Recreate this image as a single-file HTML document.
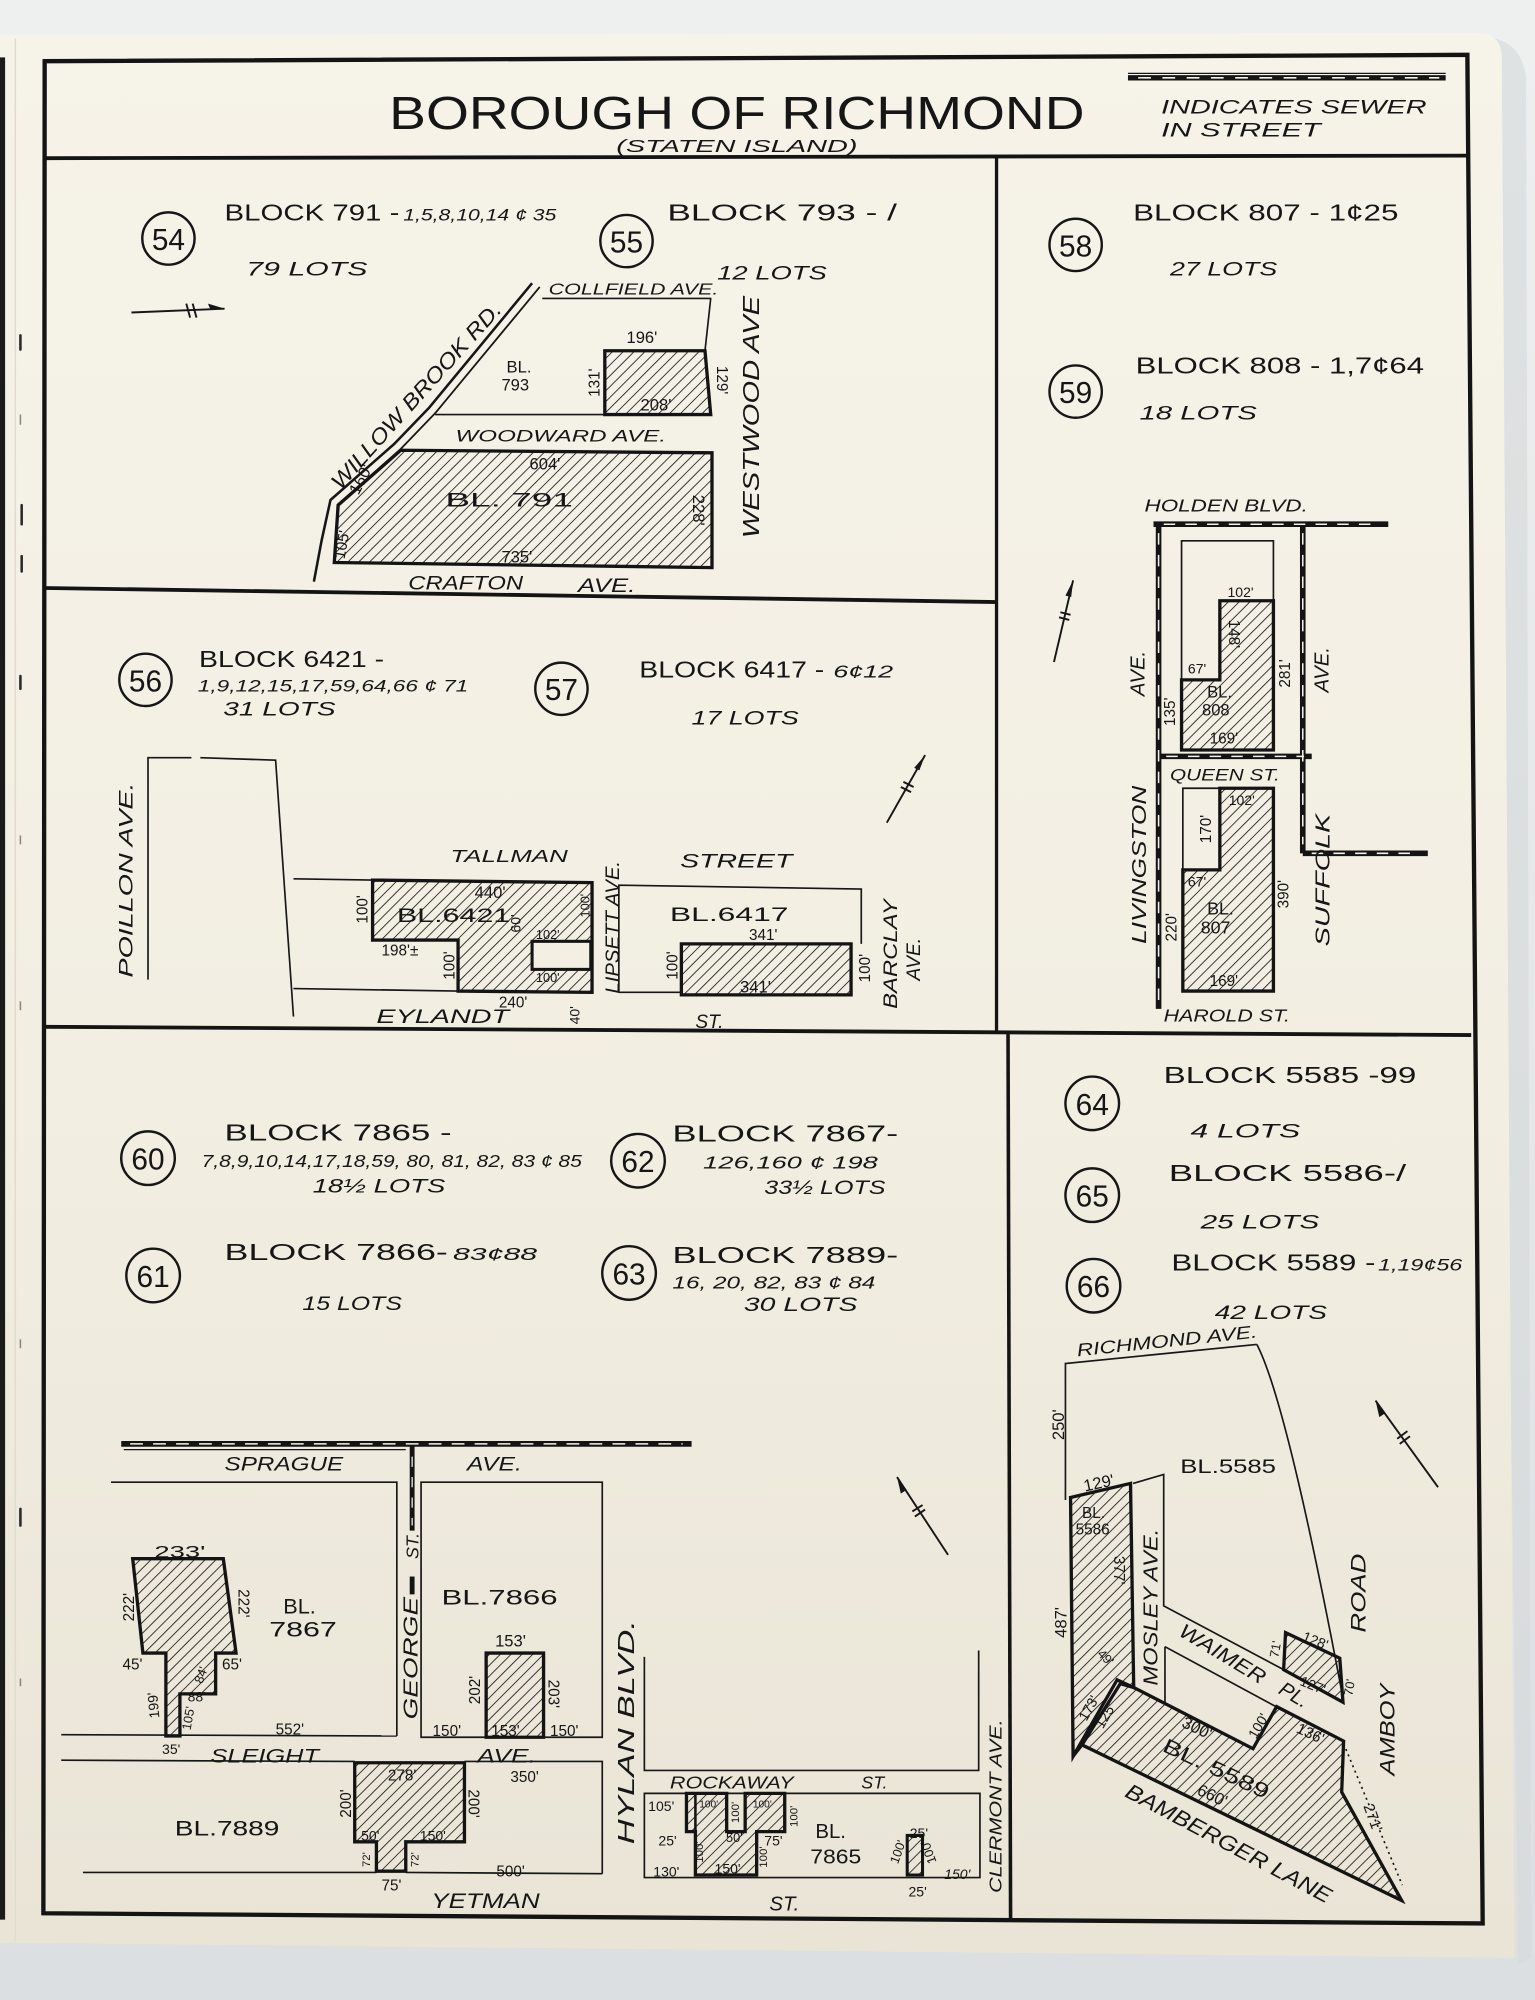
<!DOCTYPE html>
<html>
<head>
<meta charset="utf-8">
<style>
html,body{margin:0;padding:0;background:#e9ebec;}
svg{display:block;}
text{font-family:"Liberation Sans","DejaVu Sans",sans-serif;fill:#161616;}
.i{font-style:italic;}
</style>
</head>
<body>
<svg width="1535" height="2000" viewBox="0 0 1203 1568" preserveAspectRatio="none" xmlns="http://www.w3.org/2000/svg">
<defs>
<linearGradient id="pg" x1="0" y1="0" x2="0" y2="1">
<stop offset="0" stop-color="#f6f3e9"/>
<stop offset="0.55" stop-color="#f2eee2"/>
<stop offset="1" stop-color="#e9e4d6"/>
</linearGradient>
<linearGradient id="bg" x1="0" y1="0" x2="0" y2="1">
<stop offset="0" stop-color="#eef0f0"/>
<stop offset="1" stop-color="#dcdfe1"/>
</linearGradient>
<pattern id="h" width="6" height="6" patternUnits="userSpaceOnUse" patternTransform="rotate(45)">
<line x1="0" y1="0" x2="0" y2="6" stroke="#151515" stroke-width="1.3"/>
</pattern>
</defs>

<!-- background -->
<rect x="0" y="0" width="1203" height="1568" fill="url(#bg)"/>
<path d="M1170,30 Q1192,34 1196,60 L1200,1535 L1190,1540 Z" fill="#d6d8d9" opacity="0.6"/>
<!-- page -->
<path d="M0,27 L1160,26 Q1176,27 1177,44 L1187,1535 L0,1523 Z" fill="url(#pg)"/>
<!-- binding -->
<rect x="0" y="45" width="4" height="1460" fill="#1b1b1b"/>
<line x1="12" y1="30" x2="12" y2="1523" stroke="#e2dccd" stroke-width="1.2"/>
<g stroke="#2a2a2a" stroke-width="2" stroke-linecap="round">
<line x1="16" y1="263" x2="16" y2="274"/>
<line x1="17" y1="396" x2="17" y2="411"/>
<line x1="17" y1="436" x2="17" y2="448"/>
<line x1="16" y1="530" x2="16" y2="540"/>
<line x1="16" y1="1183" x2="16" y2="1196"/>
</g>
<g stroke="#8a8580" stroke-width="1.2">
<line x1="16" y1="325" x2="16" y2="333"/>
<line x1="16" y1="655" x2="16" y2="662"/>
<line x1="16" y1="785" x2="16" y2="792"/>
<line x1="16" y1="1050" x2="16" y2="1057"/>
<line x1="16" y1="1316" x2="16" y2="1322"/>
</g>

<!-- frame -->
<g fill="none" stroke="#141414" stroke-linejoin="miter">
<polygon points="35,48 1150,43 1162,1508 34,1500" stroke-width="3.4"/>
<line x1="35" y1="124" x2="1150" y2="122" stroke-width="3"/>
<line x1="781" y1="123" x2="781" y2="810" stroke-width="2.6"/>
<line x1="35" y1="461" x2="781" y2="472" stroke-width="3"/>
<line x1="35" y1="805" x2="1153" y2="811.5" stroke-width="3"/>
<line x1="790" y1="809" x2="792" y2="1505" stroke-width="2.8"/>
</g>

<!-- header -->
<text x="305" y="101" font-size="36" textLength="545" lengthAdjust="spacingAndGlyphs">BOROUGH OF RICHMOND</text>
<text x="483" y="119" font-size="14" class="i" textLength="189" lengthAdjust="spacingAndGlyphs">(STATEN ISLAND)</text>
<line x1="884" y1="57.5" x2="1133" y2="57.5" stroke="#161616" stroke-width="1"/>
<line x1="884" y1="61" x2="1133" y2="61" stroke="#161616" stroke-width="4.2"/>
<line x1="892" y1="61" x2="1128" y2="61" stroke="#f5f2e7" stroke-width="1.2" stroke-dasharray="10 9"/>
<text x="910" y="89" font-size="15" class="i" textLength="208" lengthAdjust="spacingAndGlyphs">INDICATES SEWER</text>
<text x="910" y="107" font-size="15" class="i" textLength="125" lengthAdjust="spacingAndGlyphs">IN STREET</text>

<!-- circles -->
<g fill="none" stroke="#161616" stroke-width="1.9">
<circle cx="132" cy="187" r="20.5"/>
<circle cx="491" cy="189" r="20.5"/>
<circle cx="843" cy="192" r="20.5"/>
<circle cx="843" cy="307" r="20.5"/>
<circle cx="114" cy="533" r="20.5"/>
<circle cx="440" cy="540" r="20.5"/>
<circle cx="116" cy="908" r="21"/>
<circle cx="120" cy="1000" r="21"/>
<circle cx="500" cy="910" r="21"/>
<circle cx="493" cy="998" r="21"/>
<circle cx="856" cy="865" r="21"/>
<circle cx="856" cy="937" r="21"/>
<circle cx="857" cy="1008" r="21"/>
</g>
<g font-size="24" text-anchor="middle">
<text x="132" y="196" textLength="26" lengthAdjust="spacingAndGlyphs">54</text>
<text x="491" y="198" textLength="26" lengthAdjust="spacingAndGlyphs">55</text>
<text x="843" y="201" textLength="26" lengthAdjust="spacingAndGlyphs">58</text>
<text x="843" y="316" textLength="26" lengthAdjust="spacingAndGlyphs">59</text>
<text x="114" y="542" textLength="26" lengthAdjust="spacingAndGlyphs">56</text>
<text x="440" y="549" textLength="26" lengthAdjust="spacingAndGlyphs">57</text>
<text x="116" y="917" textLength="26" lengthAdjust="spacingAndGlyphs">60</text>
<text x="120" y="1009" textLength="26" lengthAdjust="spacingAndGlyphs">61</text>
<text x="500" y="919" textLength="26" lengthAdjust="spacingAndGlyphs">62</text>
<text x="493" y="1007" textLength="26" lengthAdjust="spacingAndGlyphs">63</text>
<text x="856" y="874" textLength="26" lengthAdjust="spacingAndGlyphs">64</text>
<text x="856" y="946" textLength="26" lengthAdjust="spacingAndGlyphs">65</text>
<text x="857" y="1017" textLength="26" lengthAdjust="spacingAndGlyphs">66</text>
</g>

<!-- ===== 54/55 ===== -->
<text x="176" y="173" font-size="18" textLength="137" lengthAdjust="spacingAndGlyphs">BLOCK 791 -</text>
<text x="316" y="173" font-size="13" class="i" textLength="120" lengthAdjust="spacingAndGlyphs">1,5,8,10,14 ¢ 35</text>
<text x="193" y="216" font-size="15" class="i" textLength="95" lengthAdjust="spacingAndGlyphs">79 LOTS</text>
<text x="523" y="173" font-size="18" textLength="180" lengthAdjust="spacingAndGlyphs">BLOCK 793 - /</text>
<text x="562" y="219" font-size="15" class="i" textLength="86" lengthAdjust="spacingAndGlyphs">12 LOTS</text>
<!-- arrow 54 -->
<g stroke="#161616" stroke-width="1.5" fill="none">
<line x1="103" y1="245" x2="176" y2="242"/>
<line x1="146" y1="238" x2="149" y2="249"/>
<line x1="151" y1="238" x2="154" y2="249"/>
</g>
<polygon points="176,242 163,238 165,243" fill="#161616"/>
<!-- roads -->
<g stroke="#161616" fill="none" stroke-linejoin="round">
<polyline points="417,222 336,320 309,348 259,392 252,424 246,456" stroke-width="2"/>
<polyline points="423,225 341,324 314,352 265,396" stroke-width="1.4"/>
<polyline points="425,234 557,234 552.5,275" stroke-width="1.3"/>
<line x1="341" y1="325" x2="474" y2="325" stroke-width="1.3"/>
</g>
<polygon points="474,275 552.5,275 557,325 474,325" fill="url(#h)" stroke="#141414" stroke-width="2.6"/>
<polygon points="314,353 558,355 558,445 262,441 265,396" fill="url(#h)" stroke="#141414" stroke-width="2.6"/>
<text x="430" y="231" font-size="12" class="i" textLength="133" lengthAdjust="spacingAndGlyphs">COLLFIELD AVE.</text>
<text transform="translate(326,310) rotate(-48)" text-anchor="middle" y="6" font-size="17" class="i" textLength="190" lengthAdjust="spacingAndGlyphs">WILLOW BROOK RD.</text>
<text x="397" y="292" font-size="13">BL.</text>
<text x="393" y="306" font-size="13">793</text>
<text transform="translate(466,300) rotate(-90)" text-anchor="middle" y="4" font-size="12">131'</text>
<text x="491" y="269" font-size="13">196'</text>
<text x="502" y="322" font-size="13">208'</text>
<text transform="translate(566,298) rotate(90)" text-anchor="middle" y="4" font-size="12">129'</text>
<text transform="translate(589,327) rotate(-90)" text-anchor="middle" y="6" font-size="18" class="i" textLength="190" lengthAdjust="spacingAndGlyphs">WESTWOOD AVE</text>
<text x="357" y="346" font-size="13" class="i" textLength="165" lengthAdjust="spacingAndGlyphs">WOODWARD AVE.</text>
<text x="415" y="368" font-size="13">604'</text>
<text x="349" y="397" font-size="15" textLength="100" lengthAdjust="spacingAndGlyphs">BL.  791</text>
<text x="393" y="441" font-size="13">735'</text>
<text transform="translate(547,400) rotate(90)" text-anchor="middle" y="4" font-size="13">228'</text>
<text transform="translate(283,376) rotate(-62)" text-anchor="middle" y="4" font-size="13">160'</text>
<text transform="translate(268,427) rotate(-80)" text-anchor="middle" y="4" font-size="12">105'</text>
<text x="320" y="462" font-size="15" class="i" textLength="90" lengthAdjust="spacingAndGlyphs">CRAFTON</text>
<text x="453" y="464" font-size="15" class="i" textLength="45" lengthAdjust="spacingAndGlyphs">AVE.</text>

<!-- ===== 58/59 ===== -->
<text x="888" y="173" font-size="18" textLength="208" lengthAdjust="spacingAndGlyphs">BLOCK 807 - 1¢25</text>
<text x="917" y="216" font-size="15" class="i" textLength="84" lengthAdjust="spacingAndGlyphs">27 LOTS</text>
<text x="890" y="293" font-size="18" textLength="226" lengthAdjust="spacingAndGlyphs">BLOCK 808 - 1,7¢64</text>
<text x="893" y="329" font-size="15" class="i" textLength="92" lengthAdjust="spacingAndGlyphs">18 LOTS</text>
<text x="897" y="401" font-size="14" class="i" textLength="128" lengthAdjust="spacingAndGlyphs">HOLDEN BLVD.</text>
<!-- sewers -->
<g stroke="#141414" stroke-width="4.4" fill="none">
<line x1="904" y1="411" x2="1088" y2="411"/>
<line x1="908" y1="411" x2="908" y2="791"/>
<line x1="1021" y1="411" x2="1021" y2="669"/>
<line x1="1021" y1="669" x2="1119" y2="669"/>
<line x1="908" y1="593" x2="1028" y2="593"/>
</g>
<g stroke="#f4f1e6" stroke-width="1.2" fill="none" stroke-dasharray="9 8">
<line x1="912" y1="411" x2="1080" y2="411"/>
<line x1="908" y1="418" x2="908" y2="785"/>
<line x1="1021" y1="418" x2="1021" y2="662"/>
<line x1="1028" y1="669" x2="1105" y2="669"/>
<line x1="914" y1="593" x2="1022" y2="593"/>
</g>
<polyline points="926,533 926,424 998,424 998,471" fill="none" stroke="#161616" stroke-width="1.3"/>
<polygon points="956,471 998,471 998,588 926,588 926,533 956,533" fill="url(#h)" stroke="#141414" stroke-width="2.6"/>
<polyline points="927,682 927,618 956,618" fill="none" stroke="#161616" stroke-width="1.3"/>
<polygon points="956,618 998,618 998,777 927,777 927,682 956,682" fill="url(#h)" stroke="#141414" stroke-width="2.6"/>
<text x="962" y="468" font-size="11">102'</text>
<text transform="translate(967,497) rotate(90)" text-anchor="middle" y="4" font-size="12">148'</text>
<text x="931" y="528" font-size="11">67'</text>
<text x="946" y="547" font-size="13">BL.</text>
<text x="942" y="561" font-size="13">808</text>
<text x="948" y="583" font-size="12">169'</text>
<text transform="translate(917,558) rotate(-90)" text-anchor="middle" y="4" font-size="12">135'</text>
<text transform="translate(1007,528) rotate(-90)" text-anchor="middle" y="4" font-size="12">281'</text>
<text transform="translate(892,528) rotate(-90)" text-anchor="middle" y="5" font-size="16" class="i">AVE.</text>
<text transform="translate(1036,525) rotate(-90)" text-anchor="middle" y="5" font-size="16" class="i">AVE.</text>
<text x="917" y="612" font-size="13" class="i" textLength="86" lengthAdjust="spacingAndGlyphs">QUEEN ST.</text>
<text x="963" y="631" font-size="11">102'</text>
<text transform="translate(945,650) rotate(-90)" text-anchor="middle" y="4" font-size="12">170'</text>
<text x="931" y="695" font-size="11">67'</text>
<text x="946" y="717" font-size="14">BL.</text>
<text x="941" y="732" font-size="14">807</text>
<text transform="translate(918,727) rotate(-90)" text-anchor="middle" y="4" font-size="12">220'</text>
<text transform="translate(1006,701) rotate(-90)" text-anchor="middle" y="4" font-size="12">390'</text>
<text x="948" y="773" font-size="12">169'</text>
<text transform="translate(893,678) rotate(-90)" text-anchor="middle" y="5" font-size="16" class="i" textLength="124" lengthAdjust="spacingAndGlyphs">LIVINGSTON</text>
<text transform="translate(1037,690) rotate(-90)" text-anchor="middle" y="5" font-size="16" class="i" textLength="104" lengthAdjust="spacingAndGlyphs">SUFFOLK</text>
<text x="912" y="801" font-size="14" class="i" textLength="99" lengthAdjust="spacingAndGlyphs">HAROLD ST.</text>
<!-- arrow 58 -->
<g stroke="#161616" stroke-width="1.5" fill="none">
<line x1="826" y1="519" x2="841" y2="455"/>
<line x1="830" y1="484" x2="838" y2="486"/>
<line x1="831" y1="480" x2="839" y2="482"/>
</g>
<polygon points="841,455 835,467 839.5,468" fill="#161616"/>

<!-- ===== 56/57 ===== -->
<text x="156" y="523" font-size="18" textLength="145" lengthAdjust="spacingAndGlyphs">BLOCK 6421 -</text>
<text x="155" y="542" font-size="13" class="i" textLength="212" lengthAdjust="spacingAndGlyphs">1,9,12,15,17,59,64,66 ¢ 71</text>
<text x="175" y="561" font-size="15" class="i" textLength="88" lengthAdjust="spacingAndGlyphs">31 LOTS</text>
<text x="501" y="531" font-size="18" textLength="145" lengthAdjust="spacingAndGlyphs">BLOCK 6417 -</text>
<text x="653" y="531" font-size="14" class="i" textLength="47" lengthAdjust="spacingAndGlyphs">6¢12</text>
<text x="542" y="568" font-size="15" class="i" textLength="84" lengthAdjust="spacingAndGlyphs">17 LOTS</text>
<g stroke="#161616" stroke-width="1.3" fill="none">
<polyline points="116,768 116,594 150,594"/>
<polyline points="157,594 216,596 230,797"/>
<line x1="230" y1="689" x2="292" y2="690"/>
<line x1="230" y1="775" x2="359" y2="777"/>
<polyline points="485,778 485,694 675,697 675,740"/>
<line x1="485" y1="778" x2="534" y2="778"/>
</g>
<polygon points="292,690 464,692 464,778 359,777 359,737 292,737" fill="url(#h)" stroke="#141414" stroke-width="2.6"/>
<rect x="417" y="738" width="46" height="22" fill="#f3efe3" stroke="#141414" stroke-width="2.4"/>
<polygon points="534,740 667,740 667,780 534,780" fill="url(#h)" stroke="#141414" stroke-width="2.6"/>
<text transform="translate(99,690) rotate(-90)" text-anchor="middle" y="5" font-size="15" class="i" textLength="153" lengthAdjust="spacingAndGlyphs">POILLON AVE.</text>
<text x="353" y="676" font-size="14" class="i" textLength="92" lengthAdjust="spacingAndGlyphs">TALLMAN</text>
<text x="533" y="680" font-size="15" class="i" textLength="88" lengthAdjust="spacingAndGlyphs">STREET</text>
<text x="372" y="704" font-size="13">440'</text>
<text x="311" y="723" font-size="15" textLength="89" lengthAdjust="spacingAndGlyphs">BL.6421</text>
<text transform="translate(284,713) rotate(-90)" text-anchor="middle" y="4" font-size="12">100'</text>
<text x="299" y="749" font-size="12">198'±</text>
<text transform="translate(352,757) rotate(-90)" text-anchor="middle" y="4" font-size="12">100'</text>
<text transform="translate(404,724) rotate(-90)" text-anchor="middle" y="4" font-size="11">60'</text>
<text transform="translate(458,710) rotate(-90)" text-anchor="middle" y="4" font-size="10">100'</text>
<text x="420" y="736" font-size="10">102'</text>
<text x="420" y="770" font-size="10">100'</text>
<text x="391" y="790" font-size="12">240'</text>
<text transform="translate(450,796) rotate(-90)" text-anchor="middle" y="4" font-size="11">40'</text>
<text transform="translate(480,727) rotate(-90)" text-anchor="middle" y="5" font-size="15" class="i" textLength="104" lengthAdjust="spacingAndGlyphs">LIPSETT AVE.</text>
<text x="295" y="802" font-size="15" class="i" textLength="104" lengthAdjust="spacingAndGlyphs">EYLANDT</text>
<text x="545" y="806" font-size="15" class="i">ST.</text>
<text x="525" y="722" font-size="15" textLength="93" lengthAdjust="spacingAndGlyphs">BL.6417</text>
<text x="587" y="737" font-size="12">341'</text>
<text x="580" y="778" font-size="13">341'</text>
<text transform="translate(527,757) rotate(-90)" text-anchor="middle" y="4" font-size="12">100'</text>
<text transform="translate(678,759) rotate(-90)" text-anchor="middle" y="4" font-size="12">100'</text>
<text transform="translate(698,748) rotate(-90)" text-anchor="middle" y="5" font-size="15" class="i" textLength="86" lengthAdjust="spacingAndGlyphs">BARCLAY</text>
<text transform="translate(716,752) rotate(-90)" text-anchor="middle" y="5" font-size="15" class="i">AVE.</text>
<!-- arrow 57 -->
<g stroke="#161616" stroke-width="1.5" fill="none">
<line x1="695" y1="645" x2="725" y2="592"/>
<line x1="706" y1="617" x2="714" y2="621"/>
<line x1="708" y1="613" x2="716" y2="617"/>
</g>
<polygon points="725,592 716.5,602 720.5,604" fill="#161616"/>

<!-- ===== 60-63 ===== -->
<text x="176" y="894" font-size="18" textLength="178" lengthAdjust="spacingAndGlyphs">BLOCK 7865 -</text>
<text x="158" y="915" font-size="14" class="i" textLength="298" lengthAdjust="spacingAndGlyphs">7,8,9,10,14,17,18,59, 80, 81, 82, 83 ¢ 85</text>
<text x="245" y="935" font-size="15" class="i" textLength="104" lengthAdjust="spacingAndGlyphs">18½ LOTS</text>
<text x="176" y="988" font-size="18" textLength="175" lengthAdjust="spacingAndGlyphs">BLOCK 7866-</text>
<text x="355" y="988" font-size="14" class="i" textLength="66" lengthAdjust="spacingAndGlyphs">83¢88</text>
<text x="237" y="1027" font-size="15" class="i" textLength="78" lengthAdjust="spacingAndGlyphs">15 LOTS</text>
<text x="527" y="895" font-size="18" textLength="177" lengthAdjust="spacingAndGlyphs">BLOCK 7867-</text>
<text x="551" y="916" font-size="14" class="i" textLength="137" lengthAdjust="spacingAndGlyphs">126,160 ¢ 198</text>
<text x="599" y="936" font-size="15" class="i" textLength="95" lengthAdjust="spacingAndGlyphs">33½ LOTS</text>
<text x="527" y="990" font-size="18" textLength="177" lengthAdjust="spacingAndGlyphs">BLOCK 7889-</text>
<text x="527" y="1010" font-size="14" class="i" textLength="159" lengthAdjust="spacingAndGlyphs">16, 20, 82, 83 ¢ 84</text>
<text x="583" y="1028" font-size="15" class="i" textLength="89" lengthAdjust="spacingAndGlyphs">30 LOTS</text>
<!-- sewers -->
<g stroke="#141414" fill="none">
<line x1="95" y1="1132" x2="542" y2="1132" stroke-width="4.6"/>
<line x1="97" y1="1136.5" x2="318" y2="1136.5" stroke-width="1"/>
<line x1="323" y1="1132" x2="323" y2="1200" stroke-width="3.8"/>
<line x1="323" y1="1236" x2="323" y2="1250" stroke-width="3.8"/>
</g>
<line x1="102" y1="1132" x2="535" y2="1132" stroke="#f4f1e6" stroke-width="1.2" stroke-dasharray="10 8"/>
<line x1="323" y1="1142" x2="323" y2="1196" stroke="#f4f1e6" stroke-width="1" stroke-dasharray="8 8"/>
<g stroke="#161616" stroke-width="1.3" fill="none">
<polyline points="87,1162 311,1162 311,1361"/>
<line x1="48" y1="1360" x2="311" y2="1361"/>
<polygon points="330,1162 472,1162 472,1362 330,1362"/>
<line x1="48" y1="1380" x2="278" y2="1381"/>
<polyline points="364,1381 472,1381 472,1469"/>
<line x1="65" y1="1468" x2="295" y2="1468"/>
<line x1="318" y1="1468" x2="472" y2="1469"/>
<polyline points="505,1299 505,1388 767,1388 767,1294"/>
<polygon points="505,1406 768,1406 768,1472 505,1472"/>
</g>
<polygon points="104,1222 175,1222 185,1296 169,1296 169,1328 141,1328 141,1361 130,1361 130,1296 112,1296" fill="url(#h)" stroke="#141414" stroke-width="2.6"/>
<polygon points="381,1296 426,1296 426,1362 381,1362" fill="url(#h)" stroke="#141414" stroke-width="2.6"/>
<polygon points="278,1382 364,1382 364,1444 318,1444 318,1467 295,1467 295,1444 278,1444" fill="url(#h)" stroke="#141414" stroke-width="2.6"/>
<polygon points="538,1406 569.5,1406 569.5,1436 584,1436 584,1406 615,1406 615,1436 593,1436 593,1470 545,1470 545,1436 538,1436" fill="url(#h)" stroke="#141414" stroke-width="2.6"/>
<line x1="545" y1="1406" x2="545" y2="1436" stroke="#141414" stroke-width="2"/>
<polygon points="711,1439 723,1439 723,1470 711,1470" fill="url(#h)" stroke="#141414" stroke-width="2.4"/>
<text x="176" y="1153" font-size="15" class="i" textLength="93" lengthAdjust="spacingAndGlyphs">SPRAGUE</text>
<text x="366" y="1153" font-size="15" class="i" textLength="43" lengthAdjust="spacingAndGlyphs">AVE.</text>
<text x="121" y="1221" font-size="13" textLength="40" lengthAdjust="spacingAndGlyphs">233'</text>
<text transform="translate(101,1260) rotate(-90)" text-anchor="middle" y="4" font-size="12">222'</text>
<text transform="translate(191,1257) rotate(90)" text-anchor="middle" y="4" font-size="12">222'</text>
<text x="222" y="1265" font-size="17">BL.</text>
<text x="211" y="1283" font-size="17" textLength="53" lengthAdjust="spacingAndGlyphs">7867</text>
<text x="96" y="1309" font-size="12">45'</text>
<text x="174" y="1309" font-size="12">65'</text>
<text transform="translate(157,1313) rotate(-70)" text-anchor="middle" y="4" font-size="10">84'</text>
<text x="147" y="1334" font-size="11">88'</text>
<text transform="translate(120,1337) rotate(-95)" text-anchor="middle" y="4" font-size="11">199'</text>
<text transform="translate(147,1347) rotate(-80)" text-anchor="middle" y="4" font-size="10">105'</text>
<text x="127" y="1375" font-size="11">35'</text>
<text x="216" y="1360" font-size="12">552'</text>
<text x="165" y="1382" font-size="15" class="i" textLength="85" lengthAdjust="spacingAndGlyphs">SLEIGHT</text>
<text x="374" y="1382" font-size="15" class="i" textLength="46" lengthAdjust="spacingAndGlyphs">AVE.</text>
<text transform="translate(322,1300) rotate(-90)" text-anchor="middle" y="5" font-size="16" class="i" textLength="96" lengthAdjust="spacingAndGlyphs">GEORGE</text>
<text transform="translate(323,1212) rotate(-90)" text-anchor="middle" y="5" font-size="14" class="i">ST.</text>
<text x="346" y="1258" font-size="17" textLength="91" lengthAdjust="spacingAndGlyphs">BL.7866</text>
<text x="388" y="1291" font-size="13">153'</text>
<text transform="translate(372,1325) rotate(-90)" text-anchor="middle" y="4" font-size="12">202'</text>
<text transform="translate(434,1328) rotate(90)" text-anchor="middle" y="4" font-size="12">203'</text>
<text x="339" y="1361" font-size="12">150'</text>
<text x="385" y="1361" font-size="12">153'</text>
<text x="431" y="1361" font-size="12">150'</text>
<text x="304" y="1396" font-size="12">278'</text>
<text x="400" y="1397" font-size="12">350'</text>
<text transform="translate(271,1414) rotate(-90)" text-anchor="middle" y="4" font-size="12">200'</text>
<text transform="translate(371,1414) rotate(90)" text-anchor="middle" y="4" font-size="12">200'</text>
<text x="137" y="1439" font-size="17" textLength="82" lengthAdjust="spacingAndGlyphs">BL.7889</text>
<text x="283" y="1443" font-size="11">50'</text>
<text x="329" y="1443" font-size="11">150'</text>
<text transform="translate(287,1458) rotate(-90)" text-anchor="middle" y="3" font-size="9">72'</text>
<text transform="translate(325,1458) rotate(-90)" text-anchor="middle" y="3" font-size="9">72'</text>
<text x="299" y="1482" font-size="12">75'</text>
<text x="389" y="1471" font-size="12">500'</text>
<text x="338" y="1496" font-size="17" class="i" textLength="85" lengthAdjust="spacingAndGlyphs">YETMAN</text>
<text transform="translate(491,1358) rotate(-90)" text-anchor="middle" y="6" font-size="18" class="i" textLength="176" lengthAdjust="spacingAndGlyphs">HYLAN  BLVD.</text>
<text x="525" y="1402" font-size="14" class="i" textLength="97" lengthAdjust="spacingAndGlyphs">ROCKAWAY</text>
<text x="675" y="1402" font-size="14" class="i">ST.</text>
<text x="508" y="1420" font-size="11">105'</text>
<text x="548" y="1417" font-size="8">100'</text>
<text x="590" y="1417" font-size="8">100'</text>
<text transform="translate(576,1421) rotate(-90)" text-anchor="middle" y="3" font-size="9">100'</text>
<text transform="translate(622,1424) rotate(-90)" text-anchor="middle" y="3" font-size="9">100'</text>
<text transform="translate(548,1452) rotate(-90)" text-anchor="middle" y="3" font-size="9">100'</text>
<text transform="translate(598,1456) rotate(-90)" text-anchor="middle" y="3" font-size="9">100'</text>
<text x="516" y="1447" font-size="11">25'</text>
<text x="569" y="1444" font-size="10">50'</text>
<text x="599" y="1447" font-size="11">75'</text>
<text x="512" y="1471" font-size="11">130'</text>
<text x="560" y="1469" font-size="11">150'</text>
<text x="639" y="1441" font-size="16">BL.</text>
<text x="635" y="1461" font-size="16" textLength="40" lengthAdjust="spacingAndGlyphs">7865</text>
<text x="713" y="1441" font-size="11">25'</text>
<text transform="translate(704,1452) rotate(-70)" text-anchor="middle" y="3" font-size="10">100'</text>
<text transform="translate(728,1452) rotate(-110)" text-anchor="middle" y="3" font-size="10">100'</text>
<text x="740" y="1473" font-size="11" class="i">150'</text>
<text x="712" y="1487" font-size="11">25'</text>
<text x="603" y="1498" font-size="16" class="i">ST.</text>
<text transform="translate(780,1416) rotate(-90)" text-anchor="middle" y="5" font-size="14" class="i" textLength="136" lengthAdjust="spacingAndGlyphs">CLERMONT  AVE.</text>
<!-- arrow 60-63 -->
<g stroke="#161616" stroke-width="1.5" fill="none">
<line x1="743" y1="1219" x2="703" y2="1158"/>
<line x1="717" y1="1189" x2="725" y2="1183.5"/>
<line x1="715" y1="1185" x2="723" y2="1180"/>
</g>
<polygon points="703,1158 706,1171 710.5,1168" fill="#161616"/>

<!-- ===== 64-66 ===== -->
<text x="912" y="849" font-size="18" textLength="198" lengthAdjust="spacingAndGlyphs">BLOCK 5585 -99</text>
<text x="933" y="892" font-size="15" class="i" textLength="86" lengthAdjust="spacingAndGlyphs">4  LOTS</text>
<text x="916" y="926" font-size="18" textLength="186" lengthAdjust="spacingAndGlyphs">BLOCK 5586-/</text>
<text x="941" y="963" font-size="15" class="i" textLength="93" lengthAdjust="spacingAndGlyphs">25 LOTS</text>
<text x="918" y="996" font-size="18" textLength="160" lengthAdjust="spacingAndGlyphs">BLOCK 5589 -</text>
<text x="1080" y="996" font-size="13" class="i" textLength="66" lengthAdjust="spacingAndGlyphs">1,19¢56</text>
<text x="952" y="1034" font-size="15" class="i" textLength="88" lengthAdjust="spacingAndGlyphs">42 LOTS</text>
<g stroke="#161616" stroke-width="1.3" fill="none">
<polyline points="835,1176 835,1069 985,1054"/>
<path d="M985,1054 Q1009,1100 1053,1334"/>
<polyline points="888,1163 912,1156 912,1259 1006,1309"/>
<line x1="913" y1="1291" x2="913" y2="1335"/>
<line x1="913" y1="1291" x2="1000" y2="1338"/>
<line x1="1053" y1="1367" x2="1099" y2="1478" stroke-dasharray="1.6 3"/>
</g>
<polygon points="839,1174 886,1163 888.5,1323 875.5,1317 841,1377" fill="url(#h)" stroke="#141414" stroke-width="2.6"/>
<polygon points="878,1320 888.5,1323 982,1371 1000.5,1338 1053,1365 1051.5,1405 1098.5,1490 848,1368" fill="url(#h)" stroke="#141414" stroke-width="2.6"/>
<line x1="841" y1="1377" x2="848" y2="1368" stroke="#141414" stroke-width="2.4"/>
<polygon points="1007.5,1280 1050,1300 1052.5,1334.5 1006,1309" fill="url(#h)" stroke="#141414" stroke-width="2.6"/>
<text transform="translate(915,1056) rotate(-6)" text-anchor="middle" font-size="14" class="i" textLength="142" lengthAdjust="spacingAndGlyphs">RICHMOND AVE.</text>
<text transform="translate(829,1117) rotate(-90)" text-anchor="middle" y="5" font-size="13">250'</text>
<text x="925" y="1155" font-size="15" textLength="75" lengthAdjust="spacingAndGlyphs">BL.5585</text>
<text transform="translate(861,1162) rotate(-12)" text-anchor="middle" y="5" font-size="13">129'</text>
<text x="848" y="1190" font-size="12">BL.</text>
<text x="843" y="1203" font-size="12">5586</text>
<text transform="translate(877,1231) rotate(90)" text-anchor="middle" y="4" font-size="12">377'</text>
<text transform="translate(831,1272) rotate(-90)" text-anchor="middle" y="5" font-size="13">487'</text>
<text transform="translate(902,1260) rotate(-90)" text-anchor="middle" y="5" font-size="16" class="i" textLength="123" lengthAdjust="spacingAndGlyphs">MOSLEY AVE.</text>
<text transform="translate(867,1299) rotate(45)" text-anchor="middle" y="4" font-size="10">49'</text>
<text transform="translate(853,1339) rotate(-60)" text-anchor="middle" y="4" font-size="11">173'</text>
<text transform="translate(866,1345) rotate(-60)" text-anchor="middle" y="4" font-size="11">125'</text>
<text transform="translate(958,1297) rotate(31)" text-anchor="middle" y="5" font-size="16" class="i" textLength="76" lengthAdjust="spacingAndGlyphs">WAIMER</text>
<text transform="translate(1014,1329) rotate(31)" text-anchor="middle" y="5" font-size="16" class="i">PL.</text>
<text transform="translate(986,1353) rotate(-60)" text-anchor="middle" y="4" font-size="11">100'</text>
<text transform="translate(1031,1286) rotate(22)" text-anchor="middle" y="4" font-size="11">128'</text>
<text transform="translate(1029,1321) rotate(22)" text-anchor="middle" y="4" font-size="11">127'</text>
<text transform="translate(1000,1293) rotate(-80)" text-anchor="middle" y="3" font-size="10">71'</text>
<text transform="translate(1058,1323) rotate(-80)" text-anchor="middle" y="3" font-size="10">70'</text>
<text transform="translate(938,1355) rotate(25)" text-anchor="middle" y="4" font-size="13">300'</text>
<text transform="translate(953,1387) rotate(25)" text-anchor="middle" y="5" font-size="16" textLength="90" lengthAdjust="spacingAndGlyphs">BL. 5589</text>
<text transform="translate(950,1408) rotate(25)" text-anchor="middle" y="4" font-size="13">660'</text>
<text transform="translate(1027,1359) rotate(25)" text-anchor="middle" y="4" font-size="12">136'</text>
<text transform="translate(963,1445) rotate(28)" text-anchor="middle" y="6" font-size="17" class="i" textLength="180" lengthAdjust="spacingAndGlyphs">BAMBERGER LANE</text>
<text transform="translate(1087,1356) rotate(-90)" text-anchor="middle" y="6" font-size="17" class="i" textLength="72" lengthAdjust="spacingAndGlyphs">AMBOY</text>
<text transform="translate(1064,1249) rotate(-90)" text-anchor="middle" y="6" font-size="17" class="i" textLength="62" lengthAdjust="spacingAndGlyphs">ROAD</text>
<text transform="translate(1076,1425) rotate(70)" text-anchor="middle" y="4" font-size="12">271'</text>
<!-- arrow 64-66 -->
<g stroke="#161616" stroke-width="1.5" fill="none">
<line x1="1127" y1="1166" x2="1078" y2="1098"/>
<line x1="1097" y1="1132" x2="1105" y2="1126"/>
<line x1="1095" y1="1128" x2="1103" y2="1122"/>
</g>
<polygon points="1078,1098 1081,1111 1085.5,1108" fill="#161616"/>
</svg>
</body>
</html>
